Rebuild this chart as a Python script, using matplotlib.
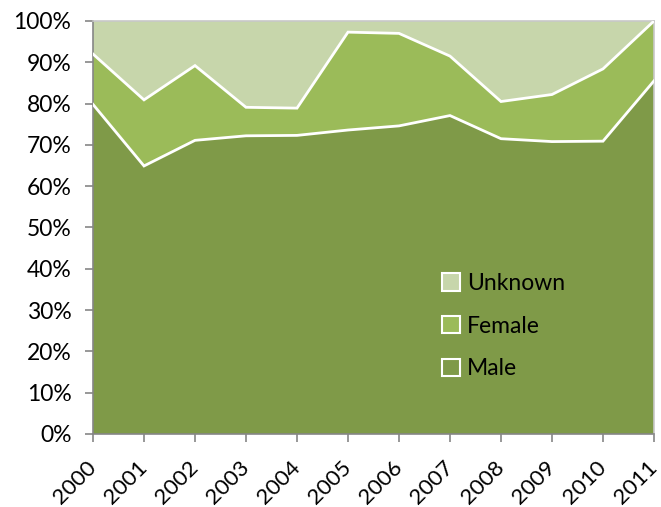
import matplotlib
matplotlib.use("Agg")
import matplotlib.pyplot as plt
from matplotlib.patches import Patch
import numpy as np

years = ["2000", "2001", "2002", "2003", "2004", "2005", "2006",
         "2007", "2008", "2009", "2010", "2011"]
male = [79.8, 64.9, 71.1, 72.2, 72.3, 73.6, 74.6, 77.1, 71.5, 70.8, 70.9, 85.5]
female_plus_male = [92.0, 80.9, 89.2, 79.1, 78.9, 97.3, 97.0, 91.5, 80.5, 82.2, 88.4, 100.0]
female = [t - m for t, m in zip(female_plus_male, male)]
unknown = [100.0 - t for t in female_plus_male]

c_male = "#7F9A48"
c_female = "#9BBB59"
c_unknown = "#C7D6AB"

plt.rcParams["font.family"] = ["Lato", "DejaVu Sans"]

fig = plt.figure(figsize=(6.61, 5.07), dpi=100)
ax = fig.add_axes([0.1407, 0.144, 0.8487, 0.8146])

x = np.arange(len(years))
ax.stackplot(x, male, female, unknown, colors=[c_male, c_female, c_unknown],
             linewidth=0)
lower = np.array(male)
upper = lower + np.array(female)
ax.plot(x, lower, color="white", lw=2, solid_joinstyle="miter", zorder=3)
ax.plot(x, upper, color="white", lw=2, solid_joinstyle="miter", zorder=3)

ax.set_xlim(0, len(years) - 1)
ax.set_ylim(0, 100)
ax.set_yticks(np.arange(0, 101, 10))
ax.set_yticklabels([f"{v}%" for v in range(0, 101, 10)])
ax.set_xticks(x)
ax.set_xticklabels(years, rotation=45, ha="right", va="center",
                   rotation_mode="anchor")

for side in ["left", "bottom"]:
    ax.spines[side].set_color("#868686")
    ax.spines[side].set_linewidth(1.2)
for side in ["top", "right"]:
    ax.spines[side].set_color("#C8C8C8")
    ax.spines[side].set_linewidth(1.2)
ax.tick_params(axis="both", colors="#868686", labelcolor="black",
               labelsize=16.5, length=5.5, width=1.2, direction="out")
ax.tick_params(axis="y", pad=10)
ax.tick_params(axis="x", pad=16, labelsize=16)

handles = [Patch(facecolor=c_unknown, edgecolor="white", linewidth=1.5),
           Patch(facecolor=c_female, edgecolor="white", linewidth=1.5),
           Patch(facecolor=c_male, edgecolor="white", linewidth=1.5)]
ax.legend(handles, ["Unknown", "Female", "Male"], loc="upper left",
          bbox_to_anchor=(0.585, 0.44), frameon=False, fontsize=16.5,
          handlelength=0.8, handleheight=0.8, handletextpad=0.3,
          labelspacing=0.95)

fig.savefig("out.png", dpi=100)
